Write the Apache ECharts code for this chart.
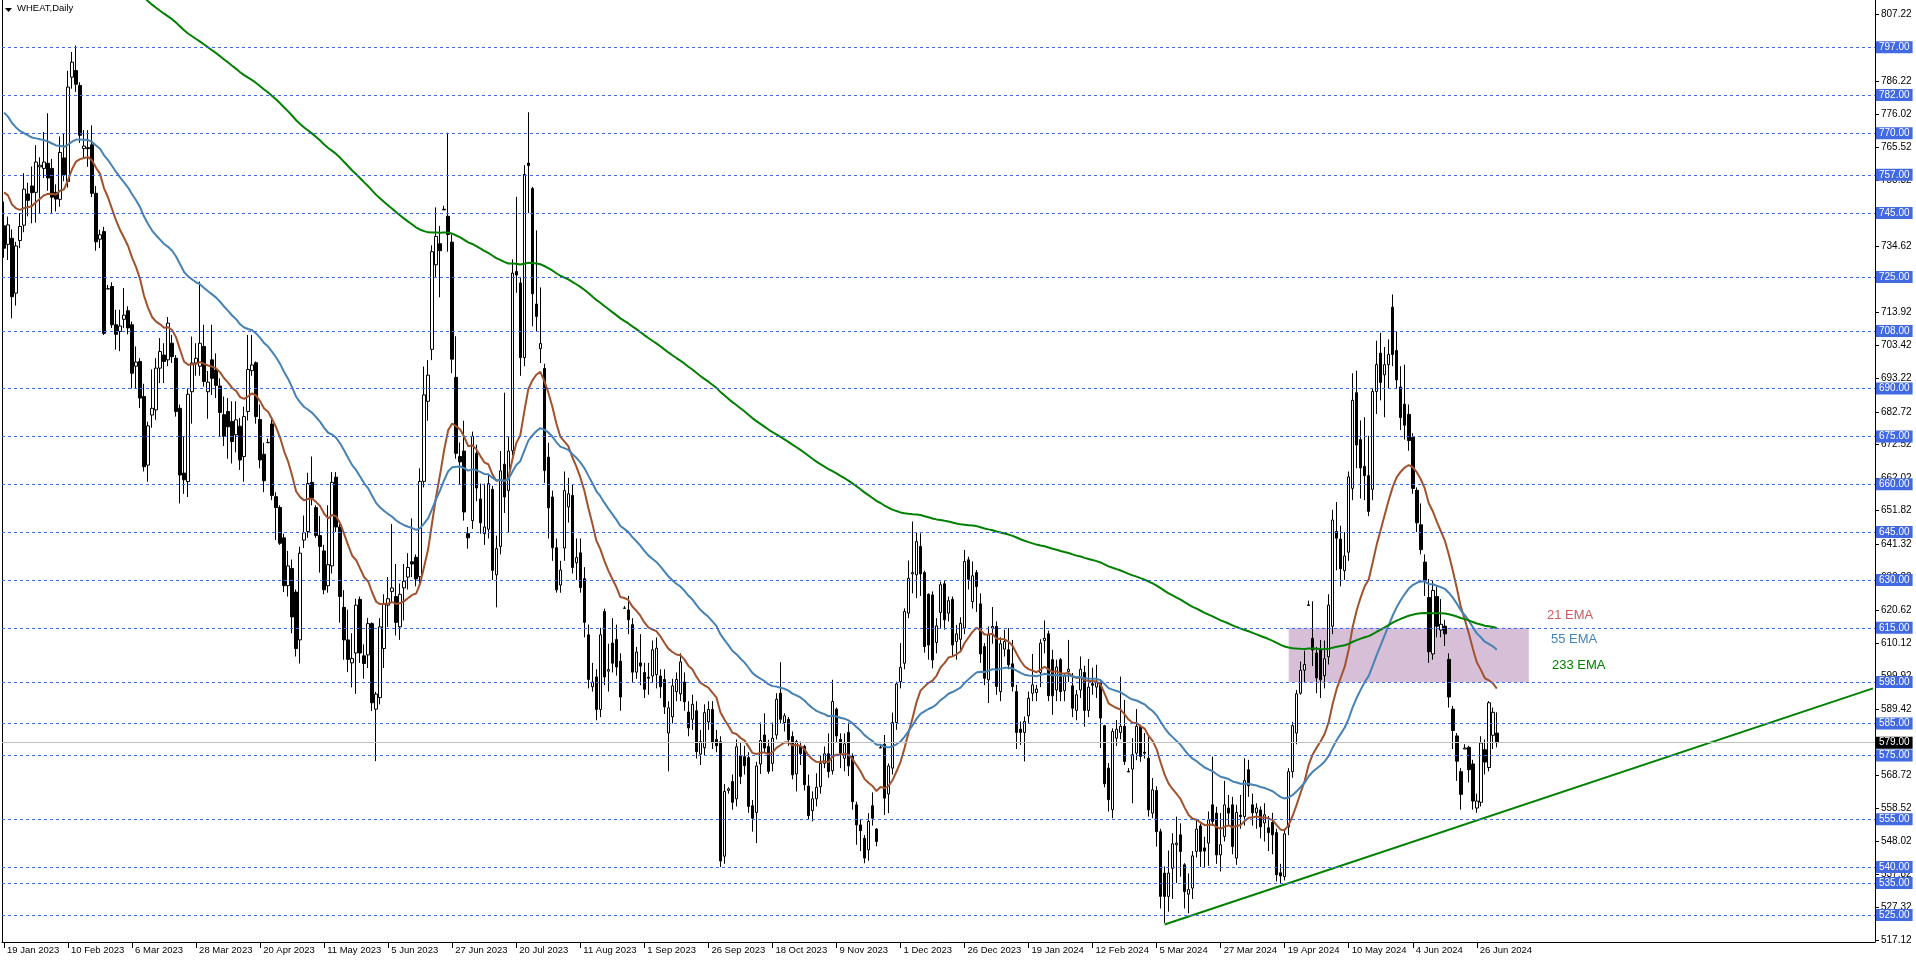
<!DOCTYPE html>
<html>
<head>
<meta charset="utf-8">
<script src="https://cdn.jsdelivr.net/npm/echarts@6/dist/echarts.min.js"></script>
<style>html,body{margin:0;padding:0;background:#fff}#c{width:1916px;height:963px}</style>
</head>
<body>
<div id="c"></div>
<script>
// ---- DATA ----
const tickLabels = ['19 Jan 2023','10 Feb 2023','6 Mar 2023','28 Mar 2023','20 Apr 2023','11 May 2023','5 Jun 2023','27 Jun 2023','20 Jul 2023','11 Aug 2023','1 Sep 2023','26 Sep 2023','18 Oct 2023','9 Nov 2023','1 Dec 2023','26 Dec 2023','19 Jan 2024','12 Feb 2024','5 Mar 2024','27 Mar 2024','19 Apr 2024','10 May 2024','4 Jun 2024','26 Jun 2024'];
const barsPerLabel = 16;
const slotCount = 468;   // bar slots including the empty right margin
const slots = Array.from({length: slotCount}, (_, i) => String(i));

const open = [741,735.2,737.1,719.9,736.4,741.2,751,753.5,751.5,759.5,759,760.6,759,751.5,749.3,762.3,754.9,787.6,789.7,785,765.2,765.5,766.4,751.2,736.8,739.2,721.2,722,710,707.9,711.7,714.4,710,697,698.5,687.5,666,681.7,683.3,696.4,700.5,699,704.2,699.5,683.8,663.5,660.8,689,698,697,703.2,689,699,695.8,690.8,681.8,682.8,679.7,675.5,678.2,668.7,682.8,695.6,698.1,680.3,669.4,673,678.9,656.1,652.7,643.2,628.2,633.6,626.2,611.2,642.5,645.2,660.6,652.7,643.9,639.1,628.2,634.4,662.2,646.6,621.4,611.2,604,607.1,623.9,606.2,606.5,616.3,589.5,593.1,608.5,622.1,626.4,624.8,615.3,627.5,630.9,635.7,637.1,631,660.9,686,702.3,728.8,735.4,746,744,735.9,693.5,668.7,670.4,644.5,648.6,669.7,655.4,644.5,645.9,658.4,631.6,640.5,666.3,658,670.5,726.7,723.1,699.7,760.7,752.7,716.5,702.5,696.3,668.5,656,640.1,628.4,640,652.9,656.5,635.4,638.5,630.4,612.8,596.5,599.6,589.4,620.1,601.4,610.2,611.3,604.5,621.1,620.6,616,601.1,604,601,599.5,599.9,600.3,599.9,598.8,582,587.1,595,594.3,598,588.6,586.3,589,575.4,577.4,585.5,589.4,580,579.3,543.4,564,566.8,561.4,574.9,574.6,574.3,559.2,557.1,572.3,581.4,577.8,572.5,581.4,594.5,585.3,586.3,580.9,569.2,577.8,577.8,565.4,557.7,561.4,565.2,572.5,575.5,570.2,589.5,580,574.1,582.2,574.8,559.5,553.2,549,545.4,559.2,551.9,577.3,578.5,562.9,571,585.3,598.1,603.9,619.6,631.9,631.6,640.5,632.3,625.5,625.3,610.4,619.8,628.8,619.6,623.9,610.7,611.4,614.9,636.3,623.2,632.3,622.5,609.1,598.7,614.9,615.4,595,608.3,608.1,603.7,595,583.2,582.2,587.4,594.5,594.7,601,611,613.1,605,595.5,605,595.3,601.3,596.8,589.1,595.5,601,589.1,597.5,596.4,597.8,584.3,571,558,580.4,582.2,584.1,569.8,570.7,575.7,584.1,576,574.1,556.9,564,551.1,538.1,530.8,539.6,547,550.1,540.7,531.5,533.4,544.9,552.9,546,547.5,559.5,556.9,543.8,549.6,558.5,559.5,542.8,556.2,555.8,570.5,559.5,557,557.9,553.8,552.3,554,550.8,538.2,537,552.6,569.9,582,594.5,601.7,622,611.7,607.1,608,600,605.9,615.5,645.2,642.8,632.9,638.7,658.7,688.7,674,665.6,662.7,658.4,689.1,701.1,694.3,697.5,715.5,701.9,690.5,685.1,681.9,674.7,658.1,647.3,635.6,624.5,606.8,624.8,614.3,615.5,605.1,589.5,581.1,569.9,577,577.5,572.3,558.5,560.3,576.8,571.2,581.3,582];
const high = [748.6,743.9,739.9,736,745,757.5,754.5,759.6,766.3,762.5,770.4,776.3,762,754,769,770,789.6,795.5,797.5,786,771,771,772.5,753.5,739.8,740.7,722.5,723.3,714.7,714.7,721.5,715.8,711,703.2,699.5,691.5,679.6,696,699.5,705.8,704.2,712.4,706.8,700.5,685,675,690,706.3,704.2,723.5,710,695.5,710,701,693.2,687.5,687,686,686,680.8,684.3,706.8,706.8,698.5,685,673,674.3,680.5,657.5,653.4,644.5,639.1,636.4,627,640.4,650.2,663.6,668.7,653.4,650,641,653.4,663.8,663.8,648.6,626.8,620.7,613.3,624.1,624.8,609.8,618.1,616.7,594.9,618,625.5,630.9,647.5,635,628.9,635,638.4,649.3,638,665,696.9,698.9,734.9,746.8,741,747.3,770.2,738.3,706.4,673.1,679.9,646.6,676.5,672.4,660.2,660.2,662.9,659.5,643.9,670.4,688.7,675,730.5,750.1,725,760,776.6,753.2,739.6,721.7,697.8,673,658,643,636,664,662,660,643,643,634,616,604,602,615,621,610,618,616,607,621.8,625,618,609,613,604,604,611,612,602,602,592,599,601,607,601,592,594,592,583,591,592,592,583,581,566,565,569,580,579,578,576,561,573,585.3,588.2,579.9,585.3,594.5,604.2,588.2,587,582.5,579.9,579.3,578.3,569,563.7,569.4,575.1,577.8,581.9,598.7,590,581.9,581.9,585.3,575.6,560.5,554.8,550,556.9,563.4,552.2,578.5,581.4,572.5,588.4,598.1,610.2,621.1,636.1,648.3,644.9,644.6,632.9,625.8,626.4,618,629.5,630,624.8,624.8,615.9,618.3,639.4,637.3,635.8,633.1,625.8,610.2,615.4,621.5,617,612,614.4,614.9,611.2,597.1,585.6,587.2,595,606.8,597.1,611.4,617.3,614.1,608.1,605,605.5,600.5,611.2,600.8,595.5,606,603.1,605.2,602.5,603.4,598.2,584.6,572.6,583.5,586.1,599.7,592.4,571,580.4,589.5,584.6,582,581.4,567.9,565.3,552,540.2,545.2,550.6,555.8,553.7,541.2,538,545,554.8,553.7,549.5,557.4,574.6,558.9,556.9,567,562.6,562,559.5,562.6,574.1,573.6,563,560,559,560,556,557,552,541,552,571,585.5,595.5,604.4,607.8,623.5,623.3,609,611.2,611,625.5,652,654.4,647,645,664,694.8,695.6,680,681,675.2,690.2,705,707.5,703,705.4,719.5,708,697,697.5,685,676,659,654,638,630.3,630,628,624,617.5,607,590.5,582,571,578.5,578,573.6,563,581,580,592,590,588.5];
const low = [731,730.3,712,716,734,739,744,741.8,742,744.8,756,752,745,745.5,747,755,753,784,783,767,762,759.5,750,733.2,734,706.8,721.2,709,702.2,701.7,709,707,690,690.1,683.9,664,660.8,677.7,680.2,691.7,691.7,697,698,681.2,654,657,656,679,694,694,690.6,680.5,688,687,675,672,668,666.5,670,664.5,660.8,680,694,679,665,657.5,673,655,642.5,641,626.2,624.8,613.3,606,603.8,640,643.2,653.4,643.2,632.3,625.5,626,632,645,616.6,605,601.1,596.3,594.3,604,599,602.4,588.9,573.2,591,602.4,615.3,623,612.6,611.2,617.3,627,630.9,628,629,659,679.9,698.9,725,718.6,746,732.9,694.8,668,660,648.6,639.8,646,654.7,644.5,641,643,630,621.4,638,651,645,669,720,694,697,745,709.5,708,698,660.4,643,636,626,626,636,648,632,630,626,612,596,595,586,587,597,595,601,600,589,621.1,613,598,599,597,593,594,598,596,593,588,570,585,592,592,589,581,583,574,572,575,583,577,576,540,541,563,558,559,566,569,557,551.1,547.5,569.2,575.7,569.2,570,580,585,582.5,578,567.5,563.7,572,564,555,554.3,559,563,571,568,569,579,571,570,568.5,558,547,545,541.2,542,553,546.5,577.3,556.3,556.9,569,583,596,602,618,625.8,624.3,625,607.2,605,602.3,607,615,614.4,617,606,605,608,613,627,621,620,604,597,591.4,610,594,592,606,602,595,577,578.3,573.1,585,592,592,596.4,607,592,587.7,592,592,592,598,587,586,593,584,587,594,593,577.3,565,557.4,555.3,578,580,572,569.8,560,573.5,573,574,555.8,555.3,546.4,527,522.5,526,530,535,537,527,525.5,530,543,540,540,540.4,553,541,538.6,548,553,544,540.7,552,553,562,553,552,549,548,545,544,535.5,535,535.8,550,568,578.5,594,598,622,603,594.5,593,596,603.5,613,633,628,630,636,655,665,655.5,655,650,655,682,686.3,681,690,697,690,677,674,670.5,657,645,638,625,604,605,612,612,609.3,590,577,567,558,577,566.5,558,557,559,569,570,577,577.5];
const close = [734,741.3,718.8,734.7,740.8,752.5,749,751.4,761,760,761,756,750,749.4,764,757,784.5,792.3,785.4,769.4,766,765.2,751.2,736,738.2,707.3,721.3,710,707,709.6,713,709,694.8,698.3,687,665.5,678.3,683.8,696.4,701.6,698.5,710.5,700,682.8,662.9,661.4,688.2,698,699.5,704.2,692.2,692,693.2,691,682.5,675,678,673.4,680.2,667.6,681.2,696,697.4,681.2,667.6,661.1,673.1,656.5,652.7,641.5,628.2,634.4,618.4,608.5,638.4,644.8,660.2,655.7,643.9,640.5,626.9,634.8,660.6,646.6,624.8,611.2,605.1,605.4,622.1,607.1,603.8,616.3,591.5,594.2,615.3,622.5,624.1,627.5,616.7,625.5,629.6,633.9,635,630.3,660.9,688,694.2,732.9,737.7,733.2,746.2,738.3,699.2,669.7,667,651.3,643.2,675.1,658.8,647.9,646.6,660.2,633,639.8,664.2,656,670.4,726.2,725.6,699.7,757.1,759.9,719.7,712.6,704.1,664.3,652.6,640.1,626.9,633.1,658,657,633.9,637,627.6,616.7,598.8,598,589.4,612.8,599.6,601.9,603.9,602.7,593.3,621.2,617.5,601.1,607.4,603,595.7,599.2,608.1,608.6,596.5,590.2,589.9,596.8,598.8,604.3,591.8,583.6,591,576.2,579.3,588.4,589.4,579,578,541.9,563.7,564.5,560.3,577.7,568.4,571.8,559,555.3,571.7,579.7,577.3,570,580.4,592.6,586.3,587.4,579.9,568.9,579.3,575.5,565.8,556.1,561.4,565,572.5,575.5,569.9,591.9,581.1,575.7,578.6,571.7,560.5,553.2,551.4,542.8,554.3,555.3,548,577.5,561.6,571.7,585.3,597.4,602.6,620.1,630.5,632.3,642,631.9,609.1,609.6,604.9,615.6,628.5,617.5,623.5,609.6,613.1,616.4,635.8,630.2,631.3,627.9,606.8,599.2,612.8,615.4,596.6,610,610.7,603.4,596.6,582.2,582.2,585.6,592.9,597.1,595.8,610.2,611.7,593.7,593.7,602.7,595,599.9,602,589.8,594,602,589.1,596.4,597,597.8,586.7,566.1,561.1,582.5,583.2,584.1,573.1,570,575.2,584.1,574.7,575.7,557.9,564.2,551.1,530.8,530.8,538.1,547.3,547.5,544.9,532.3,533,543.5,551.9,544.9,545,554.8,554.3,543.8,547,559.5,556.9,546.4,557.1,555.8,567.1,565.5,557,558.5,552.6,556.4,550.8,550.1,537.6,537.2,550.4,569.9,584.3,594.3,601.7,603.5,622.2,608,599.3,598.7,605.3,622.1,648.8,643.1,633.5,637.5,662.3,686.3,672.3,665.1,662.7,651.5,689.1,697.5,691.9,697.5,700.7,700.7,692.7,680.9,678.5,673.7,658.7,647.9,639.5,629.9,607.5,626.7,615.5,616.1,613.1,593.3,582.8,573.2,562.8,577.3,570.5,560.7,560.7,578.9,572.9,591.5,588.5,579];

const levels = [797,782,770,757,745,725,708,690,675,660,645,630,615,598,585,575,555,540,535,525];
const axisTickValues = [807.22,797.02,786.22,776.02,765.52,755.32,744.82,734.62,724.12,713.92,703.42,693.22,682.72,672.52,662.02,651.82,641.32,630.82,620.62,610.12,599.92,589.42,579.22,568.72,558.52,548.02,537.82,527.32,517.12];
const lastPrice = 579;
const trendLine = [[290, 522], [467, 596]];
const zoneBars = [321, 381];
const zonePrices = [615, 598];
const emaPeriods = [21, 55, 233];
const emaStart = [751.5, 776.5, 839];   // indicator values at the first visible bar
const rangeMark = [646, 565.5];

// ---- build ----
function ema(period, start) {
  const a = 2 / (period + 1);
  const out = [];
  let e = start;
  close.forEach((c, i) => { if (i > 0) e = e + a * (c - e); out.push(+e.toFixed(2)); });
  return out;
}
const candles = close.map((c, i) => [open[i], c, low[i], high[i]]);
const showTick = (i) => i % barsPerLabel === 0 && i / barsPerLabel < tickLabels.length;
const FONT = 'Liberation Sans';

const chart = echarts.init(document.getElementById('c'), null, {renderer: 'canvas'});
const emaColors = ['#A0522D', '#4682B4', '#008000'];

chart.setOption({
  animation: false,
  backgroundColor: '#fff',
  grid: {left: 2, right: 41, top: 0, bottom: 21, containLabel: false},
  xAxis: {
    type: 'category', data: slots, boundaryGap: true,
    axisLine: {show: true, lineStyle: {color: '#000', width: 1}},
    axisTick: {show: true, alignWithLabel: true, interval: showTick, length: 6, lineStyle: {color: '#000'}},
    axisLabel: {interval: showTick, formatter: (v, i) => tickLabels[Math.round(i / barsPerLabel)] || '',
      align: 'left', margin: 3, padding: [0, 0, 0, 3], fontSize: 9.5, fontFamily: FONT, color: '#000'},
    splitLine: {show: false}
  },
  yAxis: [{
    type: 'value', position: 'right', min: 516.5, max: 811.8,
    axisLine: {show: true, lineStyle: {color: '#000', width: 1}},
    axisTick: {show: true, customValues: axisTickValues, length: 4, lineStyle: {color: '#000'}},
    axisLabel: {customValues: axisTickValues, formatter: (v) => Number(v).toFixed(2), margin: 6,
      fontSize: 10, fontFamily: FONT, color: '#000'},
    splitLine: {show: false}
  }, {
    type: 'value', position: 'left', min: 516.5, max: 811.8,
    axisLine: {show: true, lineStyle: {color: '#000'}}, axisTick: {show: false}, axisLabel: {show: false}, splitLine: {show: false}
  }],
  series: [
    {
      name: 'zone', type: 'line', data: [], z: 1, silent: true,
      markArea: {silent: true, itemStyle: {color: '#D8BFD8', opacity: 1},
        data: [[{xAxis: zoneBars[0], yAxis: zonePrices[0]}, {xAxis: zoneBars[1], yAxis: zonePrices[1]}]]}
    },
    {
      name: 'levels', type: 'line', data: [], z: 2, silent: true,
      markLine: {
        silent: true, symbol: ['none', 'none'], animation: false, precision: 2,
        lineStyle: {color: '#4169E1', type: [3, 3], width: 1},
        label: {position: 'end', distance: 1, formatter: (p) => Number(p.value).toFixed(2),
          backgroundColor: '#4169E1', color: '#fff', padding: [1, 3, 0, 3], fontSize: 10, lineHeight: 11, fontFamily: FONT},
        data: levels.map(v => ({yAxis: v})).concat([{yAxis: lastPrice,
          lineStyle: {color: '#C0C0C0', type: 'solid', width: 1},
          label: {backgroundColor: '#000', color: '#fff'}}])
      }
    },
    {
      name: 'WHEAT', type: 'candlestick', data: candles, z: 3, barWidth: 3,
      itemStyle: {color: '#fff', color0: '#000', borderColor: '#000', borderColor0: '#000', borderWidth: 1}
    },
    ...emaPeriods.map((p, k) => ({
      name: p + ' EMA', type: 'line', data: ema(p, emaStart[k]), z: 4, showSymbol: false, symbol: 'none',
      lineStyle: {color: emaColors[k], width: 2}, silent: true
    })),
    {
      name: 'trend', type: 'line', data: trendLine, z: 4, showSymbol: false, symbol: 'none',
      lineStyle: {color: '#008000', width: 2}, silent: true
    }
  ],
  graphic: [
    {type: 'polygon', shape: {points: [[5, 8], [12, 8], [8.5, 12]]}, style: {fill: '#000'}},
    {type: 'text', left: 17, top: 3, style: {text: 'WHEAT,Daily', fontSize: 9.5, fontFamily: FONT, fill: '#000'}},
    {type: 'text', left: 1547, top: 609, style: {text: '21 EMA', fontSize: 13, fontFamily: FONT, fill: '#CD5C5C'}},
    {type: 'text', left: 1551, top: 633, style: {text: '55 EMA', fontSize: 13, fontFamily: FONT, fill: '#4682B4'}},
    {type: 'text', left: 1552, top: 659, style: {text: '233 EMA', fontSize: 13, fontFamily: FONT, fill: '#008000'}}
  ]
});

// thick range marker on the price axis
const yTop = chart.convertToPixel({yAxisIndex: 0}, rangeMark[0]);
const yBot = chart.convertToPixel({yAxisIndex: 0}, rangeMark[1]);
const xAxisEdge = chart.convertToPixel({xAxisIndex: 0}, slots[slotCount - 1]) + 2;
chart.setOption({graphic: [{type: 'rect', shape: {x: xAxisEdge - 1, y: yTop, width: 3, height: yBot - yTop}, style: {fill: '#000'}, z: 10}]});
</script>
</body>
</html>
